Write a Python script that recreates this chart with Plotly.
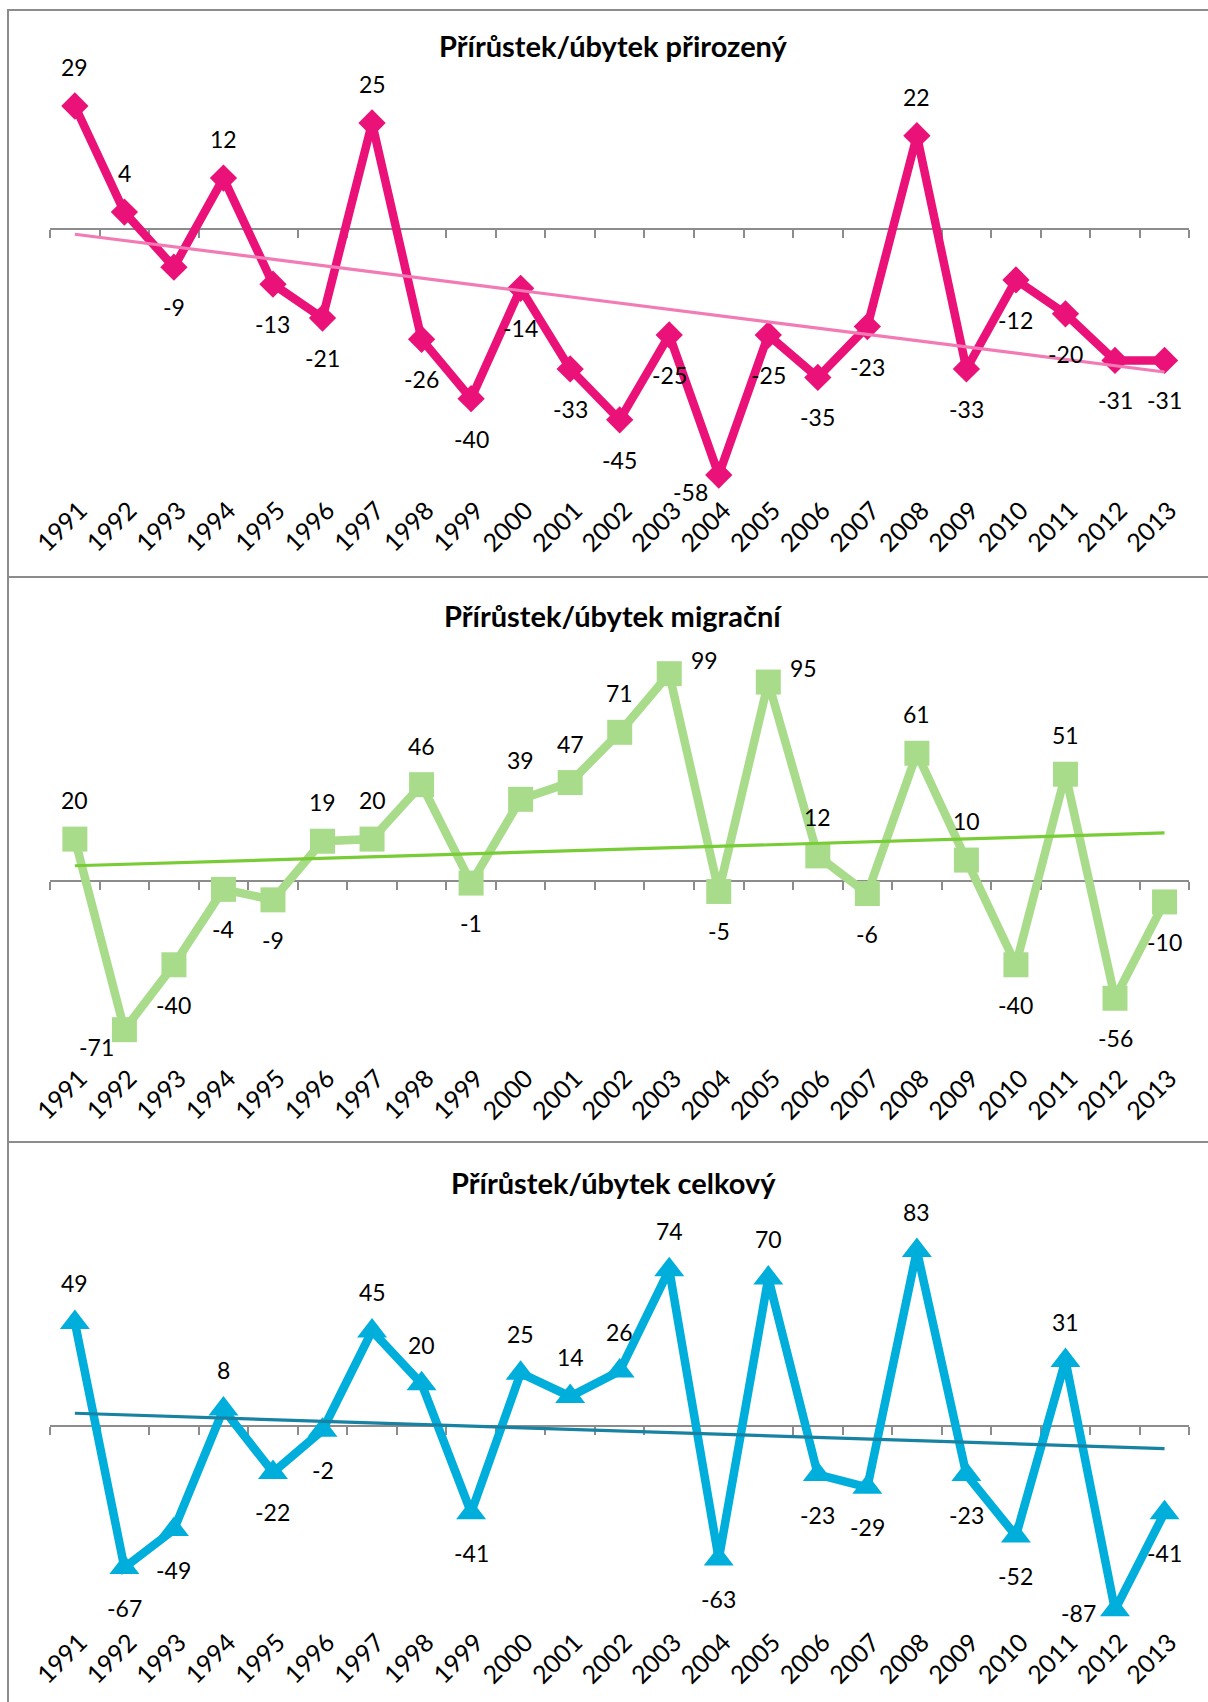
import numpy as np
import plotly.graph_objects as go

years = [str(y) for y in range(1991, 2014)]
natural = [29, 4, -9, 12, -13, -21, 25, -26, -40, -14, -33, -45, -25, -58, -25, -35, -23, 22, -33, -12, -20, -31, -31]
migration = [20, -71, -40, -4, -9, 19, 20, 46, -1, 39, 47, 71, 99, -5, 95, 12, -6, 61, 10, -40, 51, -56, -10]
total = [49, -67, -49, 8, -22, -2, 45, 20, -41, 25, 14, 26, 74, -63, 70, -23, -29, 83, -23, -52, 31, -87, -41]
titles = ["Přírůstek/úbytek přirozený", "Přírůstek/úbytek migrační", "Přírůstek/úbytek celkový"]

# data-label placement (a=above, b=below, bl=below-left, tr=top-right, l=left)
pos_nat = ['a', 'a', 'b', 'a', 'b', 'b', 'a', 'b', 'b', 'b', 'b', 'b', 'b', 'bl', 'b', 'b', 'b', 'a', 'b', 'b', 'b', 'b', 'b']
pos_mig = ['a', 'bl', 'b', 'b', 'b', 'a', 'a', 'a', 'b', 'a', 'a', 'a', 'tr', 'b', 'tr', 'a', 'b', 'a', 'a', 'b', 'a', 'b', 'b']
pos_tot = ['a', 'b', 'b', 'a', 'b', 'b', 'a', 'a', 'b', 'a', 'a', 'a', 'a', 'b', 'a', 'b', 'b', 'a', 'b', 'b', 'a', 'l', 'b']

SHIFT = {'a': (0, 39), 'b': (0, -40), 'bl': (-28, -17), 'tr': (35, 14), 'l': (-37, -3)}

W, H = 1208, 1702
FONT = "Lato, Carlito, Calibri, sans-serif"

series = [
    dict(vals=natural, pos=pos_nat, color='#EA1279', trend='#F27AB5', symbol='diamond', msize=21,
         top=60, bottom=490, zero=229, scale=4.241, title_y=46),
    dict(vals=migration, pos=pos_mig, color='#A8DC8B', trend='#78CC35', symbol='square', msize=25,
         top=640, bottom=1058, zero=881, scale=2.094, title_y=615),
    dict(vals=total, pos=pos_tot, color='#00AEDC', trend='#1882A3', symbol='triangle-up', msize=26,
         top=1195, bottom=1622, zero=1426, scale=2.113, title_y=1182),
]

x0_px, x1_px = 50.1, 1189.3

fig = go.Figure()
annotations = []
layout = dict(
    width=W, height=H, autosize=False,
    margin=dict(l=0, r=0, t=0, b=0, pad=0, autoexpand=False),
    paper_bgcolor='white', plot_bgcolor='rgba(0,0,0,0)', showlegend=False,
    font=dict(family=FONT, color='black'),
)

idx = np.arange(len(years))
for i, s in enumerate(series):
    n = i + 1
    xa = 'x' if n == 1 else f'x{n}'
    ya = 'y' if n == 1 else f'y{n}'
    xz = f'x{n + 3}'
    ymax = (s['zero'] - s['top']) / s['scale']
    ymin = -(s['bottom'] - s['zero']) / s['scale']
    dom_y = [1 - s['bottom'] / H, 1 - s['top'] / H]
    dom_x = [x0_px / W, x1_px / W]
    zero_pos = dom_y[0] + (0 - ymin) / (ymax - ymin) * (dom_y[1] - dom_y[0])

    # main series
    fig.add_trace(go.Scatter(
        x=years, y=s['vals'], mode='lines+markers', xaxis=xa, yaxis=ya,
        line=dict(color=s['color'], width=8.5),
        marker=dict(symbol=s['symbol'], size=s['msize'], color=s['color'], line=dict(width=0)),
        cliponaxis=False, hoverinfo='x+y'))
    # linear trend
    k, q = np.polyfit(idx, s['vals'], 1)
    fig.add_trace(go.Scatter(
        x=years, y=list(k * idx + q), mode='lines', xaxis=xa, yaxis=ya,
        line=dict(color=s['trend'], width=3.2), cliponaxis=False, hoverinfo='skip'))
    # dummy trace for zero-line axis
    fig.add_trace(go.Scatter(x=[None], y=[None], xaxis=xz, yaxis=ya, hoverinfo='skip'))

    layout['xaxis' if n == 1 else f'xaxis{n}'] = dict(
        domain=dom_x, anchor=ya, type='category', range=[-0.5, len(years) - 0.5],
        automargin=False, showline=False, showgrid=False, zeroline=False, ticks='',
        tickangle=-45, ticklabelshift=5, tickfont=dict(family=FONT, size=25, color='black'))
    layout['yaxis' if n == 1 else f'yaxis{n}'] = dict(
        domain=dom_y, anchor=xa, range=[ymin, ymax], visible=False, automargin=False,
        showgrid=False, zeroline=False)
    layout[f'xaxis{n + 3}'] = dict(
        overlaying=xa, anchor='free', position=zero_pos, type='linear', automargin=False,
        range=[-0.5, len(years) - 0.5], showline=True, linecolor='#8C8C8C', linewidth=2,
        ticks='outside', ticklen=8, tickwidth=1.5, tickcolor='#8C8C8C',
        tickvals=[j - 0.5 for j in range(len(years) + 1)], showticklabels=False,
        showgrid=False, zeroline=False, layer='below traces')

    # data labels (x given as category index)
    for j, (v, p) in enumerate(zip(s['vals'], s['pos'])):
        dx, dy = SHIFT[p]
        annotations.append(dict(
            x=j, y=v, xref=xa, yref=ya, text=str(v), showarrow=False,
            xshift=dx, yshift=dy, font=dict(family=FONT, size=23, color='black')))
    # title
    annotations.append(dict(
        x=613 / W, y=1 - s['title_y'] / H, xref='paper', yref='paper',
        text=f"<b>{titles[i]}</b>", showarrow=False, xanchor='center', yanchor='middle',
        font=dict(family=FONT, size=29, color='black')))

shapes = []
for (t, b) in [(10, 577), (577, 1142), (1142, 1712)]:
    shapes.append(dict(type='rect', xref='paper', yref='paper',
                       x0=8 / W, x1=1.02, y0=1 - b / H, y1=1 - t / H,
                       line=dict(color='#8C8C8C', width=2), fillcolor='rgba(0,0,0,0)', layer='below'))

layout['annotations'] = annotations
layout['shapes'] = shapes
fig.update_layout(**layout)

post = ("document.documentElement.style.margin='0';document.documentElement.style.overflow='hidden';"
        "document.body.style.margin='0';document.body.style.padding='0';document.body.style.overflow='hidden';")
fig.write_html("out.html", config={'responsive': False, 'displayModeBar': False}, post_script=post)
